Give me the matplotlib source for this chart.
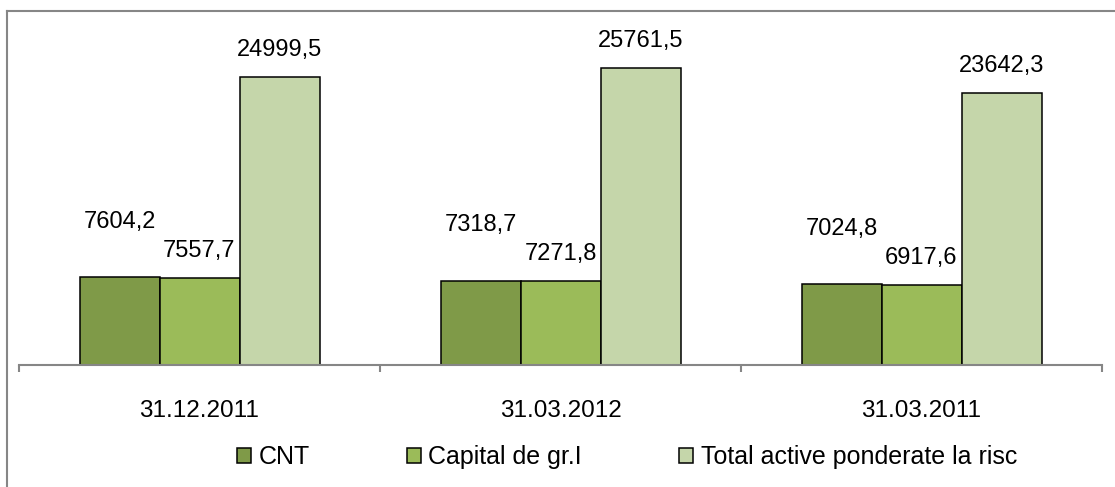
import matplotlib.pyplot as plt
from matplotlib.patches import Patch
from matplotlib.lines import Line2D
import numpy as np

plt.rcParams['font.family'] = ['Liberation Sans', 'DejaVu Sans']

categorii = ["31.12.2011", "31.03.2012", "31.03.2011"]
serii = ["CNT", "Capital de gr.I", "Total active ponderate la risc"]
cnt = [7604.2, 7318.7, 7024.8]
capital = [7557.7, 7271.8, 6917.6]
total_active = [24999.5, 25761.5, 23642.3]
etichete_cnt = ["7604,2", "7318,7", "7024,8"]
etichete_capital = ["7557,7", "7271,8", "6917,6"]
etichete_total = ["24999,5", "25761,5", "23642,3"]

culori = ["#7F9A48", "#9BBB59", "#C5D6AA"]

W, H = 1115, 487
fig = plt.figure(figsize=(W / 100, H / 100), dpi=100)
ax = fig.add_axes([19 / W, 1 - 365 / H, (1102 - 19) / W, 345.6 / H])

x = np.arange(len(categorii))
w = 80 / 361
date = [cnt, capital, total_active]
etichete = [etichete_cnt, etichete_capital, etichete_total]
ridicare = [40, 19.5, 19.5]

for j in range(3):
    pos = x + (j - 1) * w
    ax.bar(pos, date[j], width=w, color=culori[j],
           edgecolor="black", linewidth=1.1, zorder=3)
    for xi, v, t in zip(pos, date[j], etichete[j]):
        ax.annotate(t, (xi, v), xytext=(0, ridicare[j]),
                    textcoords="offset points", ha="center", va="center",
                    fontsize=17, color="black")

ax.set_xlim(-0.5, 2.5)
ax.set_ylim(0, 30000)
ax.set_yticks([])
for s in ["top", "right", "left"]:
    ax.spines[s].set_visible(False)
ax.spines["bottom"].set_color("#868686")
ax.spines["bottom"].set_linewidth(1.5)
ax.spines["bottom"].set_zorder(4)

ax.set_xticks(x)
ax.set_xticklabels(categorii, fontsize=17.5)
ax.tick_params(axis="x", which="major", length=0, pad=25)
ax.set_xticks([-0.5, 0.5, 1.5, 2.5], minor=True)
ax.tick_params(axis="x", which="minor", length=5, width=1.5,
               color="#868686", direction="out")

# chenar
fig.add_artist(Line2D([7 / W, 1], [1 - 11 / H, 1 - 11 / H],
                      color="#868686", linewidth=1.5))
fig.add_artist(Line2D([7 / W, 7 / W], [0, 1 - 11 / H],
                      color="#868686", linewidth=1.5))

handles = [Patch(facecolor=c, edgecolor="black", linewidth=1.1) for c in culori]
fig.legend(handles, serii, loc="center", bbox_to_anchor=(627 / W, 1 - 457 / H),
           ncol=3, frameon=False, fontsize=18, handlelength=0.55,
           handleheight=0.55, handletextpad=0.3, columnspacing=3.9)

fig.savefig("out.png", dpi=100)
